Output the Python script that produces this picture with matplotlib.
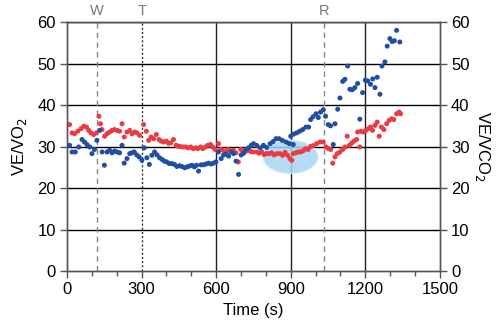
import matplotlib
matplotlib.use("Agg")
import matplotlib.pyplot as plt
from matplotlib.patches import Ellipse
from matplotlib.ticker import MultipleLocator

plt.rcParams['font.family'] = ['Liberation Sans', 'DejaVu Sans']

# VE/VO2 (left axis)
vo2_time = [10, 20, 33, 47, 60, 70, 80, 91, 100, 110, 120, 131, 141, 150, 161, 171, 181, 191,
            201, 211, 221, 230, 241, 252, 261, 270, 280, 290, 301, 311, 321, 331, 341, 352,
            362, 372, 382, 391, 401, 411, 422, 432, 442, 452, 462, 473, 483, 492, 502, 512,
            521, 529, 539, 549, 559, 569, 579, 589, 599, 609, 620, 630, 640, 650, 660, 670,
            680, 690, 700, 710, 719, 730, 741, 750, 763, 777, 790, 803, 817, 829, 841, 853,
            866, 881, 894, 900, 910, 912, 924, 936, 948, 961, 972, 980, 990, 1002, 1011, 1020,
            1031, 1040, 1051, 1060, 1071, 1078, 1089, 1098, 1109, 1118, 1129, 1138, 1148, 1158,
            1169, 1178, 1189, 1200, 1210, 1221, 1230, 1239, 1248, 1259, 1267, 1279, 1288, 1299,
            1308, 1317, 1326, 1339]
vo2_vals = [30.3, 28.7, 28.7, 29.9, 31.7, 31.1, 30.5, 29.9, 28.3, 29.3, 31.5, 33.9, 28.7, 25.5,
            28.7, 29.1, 28.5, 28.9, 28.7, 28.5, 30.3, 26.0, 27.1, 28.3, 28.5, 28.7, 28.0, 27.5,
            26.7, 29.7, 27.3, 25.7, 27.9, 28.7, 28.0, 27.3, 26.9, 26.5, 26.3, 25.9, 25.9, 25.7,
            25.2, 25.4, 25.2, 24.9, 25.1, 25.3, 25.5, 25.1, 25.5, 24.1, 25.6, 25.6, 25.8, 26.0,
            25.8, 26.0, 26.3, 28.7, 27.1, 28.0, 28.2, 27.7, 28.7, 28.3, 26.5, 23.3, 28.0, 28.4,
            29.3, 29.7, 30.3, 30.7, 30.3, 29.7, 30.3, 29.8, 30.7, 31.2, 31.9, 31.9, 31.5, 31.1,
            30.7, 32.5, 30.5, 33.0, 33.3, 33.7, 34.1, 34.7, 34.7, 36.5, 37.2, 37.9, 37.0, 38.3,
            38.9, 37.3, 35.3, 35.0, 30.5, 35.5, 39.0, 41.7, 45.7, 46.2, 49.4, 43.8, 43.7, 44.2,
            45.2, 36.6, 43.0, 46.0, 45.8, 45.0, 46.3, 44.2, 46.7, 42.6, 49.4, 50.4, 54.2, 56.0,
            55.3, 55.5, 58.0, 55.2]

# VE/VCO2 (right axis)
vco2_time = [10, 20, 30, 43, 56, 67, 78, 87, 96, 107, 118, 128, 134, 140, 151, 161, 171, 181,
             191, 201, 211, 221, 230, 241, 252, 261, 272, 281, 292, 308, 319, 328, 338, 348,
             359, 370, 379, 388, 399, 408, 417, 428, 439, 447, 457, 468, 478, 487, 498, 507,
             518, 526, 537, 546, 557, 566, 577, 586, 596, 609, 619, 629, 639, 649, 659, 669,
             679, 689, 699, 710, 720, 730, 740, 750, 763, 773, 783, 793, 803, 813, 823, 833,
             845, 857, 867, 877, 887, 897, 904, 910, 920, 930, 940, 950, 960, 970, 980, 990,
             1004, 1018, 1031, 1042, 1052, 1061, 1069, 1078, 1087, 1098, 1109, 1118, 1127,
             1136, 1145, 1154, 1165, 1169, 1178, 1182, 1192, 1202, 1212, 1221, 1229, 1239,
             1248, 1256, 1265, 1275, 1286, 1296, 1306, 1315, 1326, 1336, 1342]
vco2_vals = [35.3, 33.3, 33.1, 33.7, 34.3, 34.9, 34.7, 33.9, 33.3, 32.9, 33.3, 37.3, 35.5, 34.1,
             32.5, 33.1, 33.5, 33.9, 34.1, 33.9, 33.7, 35.5, 32.3, 33.5, 33.9, 33.1, 33.5, 33.3,
             32.7, 35.3, 33.7, 31.5, 32.3, 31.9, 32.9, 31.7, 31.3, 31.1, 31.3, 30.8, 30.9, 31.7,
             30.3, 30.1, 30.0, 29.9, 29.9, 29.7, 29.9, 29.5, 29.7, 29.5, 29.9, 29.5, 29.9, 30.3,
             30.5, 29.9, 29.3, 30.7, 29.3, 29.1, 28.7, 29.3, 28.9, 29.1, 28.5, 26.3, 29.3, 28.5,
             28.9, 29.1, 28.8, 28.7, 28.7, 28.4, 28.7, 28.1, 28.3, 28.3, 28.5, 28.0, 28.3, 28.3,
             27.9, 28.6, 27.9, 27.1, 26.7, 28.3, 28.5, 28.7, 28.7, 29.0, 29.5, 29.3, 30.0, 30.2,
             30.7, 31.1, 31.1, 29.9, 29.5, 29.3, 26.0, 27.5, 28.3, 28.7, 29.3, 29.9, 32.5, 30.3,
             30.8, 31.3, 31.7, 33.5, 29.9, 33.7, 33.5, 33.9, 34.3, 34.7, 33.9, 35.1, 35.9, 32.5,
             34.7, 34.1, 35.5, 36.3, 36.7, 36.5, 37.9, 38.3, 37.9]

# Event markers (s)
event_labels = ["W", "T", "R"]
event_times = [120, 300, 1035]

BLUE = "#1f4ea3"
RED = "#ec3a42"

fig = plt.figure(figsize=(4.97, 3.29), dpi=100)
ax = fig.add_axes([0.135, 0.176, 0.750, 0.757])
ax2 = ax.twinx()

for a in (ax, ax2):
    a.set_xlim(0, 1500)
    a.set_ylim(0, 60)
    a.yaxis.set_major_locator(MultipleLocator(10))

ax.xaxis.set_major_locator(MultipleLocator(300))
ax.xaxis.set_minor_locator(MultipleLocator(100))

# background layer (right axes): grid, event lines, highlight, VE/VCO2
for yv in range(10, 70, 10):
    ax2.axhline(yv, color="black", lw=1.0, zorder=1)
for xv in (600, 900, 1200):
    ax2.axvline(xv, color="#222222", lw=1.0, zorder=1)

styles = {"W": dict(color="#888888", ls=(0, (4, 3))),
          "T": dict(color="#333333", ls=(0, (1.5, 1.5))),
          "R": dict(color="#888888", ls=(0, (4, 3)))}
for lab, t in zip(event_labels, event_times):
    ax2.axvline(t, lw=1.0, zorder=1.5, **styles[lab])
    ax2.text(t, 61.0, lab, ha="center", va="bottom", fontsize=10.5, color="#777777")

ell = Ellipse((899, 27.5), 221, 8, facecolor="#a9d5f3", edgecolor="#d5ebfa",
              lw=1.0, alpha=0.85, zorder=2)
ax2.add_patch(ell)

ax2.scatter(vco2_time, vco2_vals, s=13, color=RED, edgecolors="none", zorder=3)

# front layer (left axes): VE/VO2
ax.scatter(vo2_time, vo2_vals, s=13, color=BLUE, edgecolors="none", zorder=3)
ax.set_zorder(ax2.get_zorder() + 1)
ax.patch.set_visible(False)

ax.set_xlabel("Time (s)", fontsize=12, labelpad=4)
ax.set_ylabel("VE/VO$_2$", fontsize=12, labelpad=6)
ax2.set_ylabel("VE/VCO$_2$", fontsize=12, rotation=270, labelpad=16)

for a in (ax, ax2):
    for sp in a.spines.values():
        sp.set_color("#555555")
        sp.set_linewidth(1.0)
    a.tick_params(axis="both", which="major", labelsize=12, length=5, width=1.0,
                  color="#555555", direction="out", pad=3)
    a.tick_params(axis="x", which="minor", length=3.5, width=1.0, color="#555555",
                  direction="out")
ax2.tick_params(axis="x", which="both", bottom=False, labelbottom=False)

fig.savefig("out.png", dpi=100)
